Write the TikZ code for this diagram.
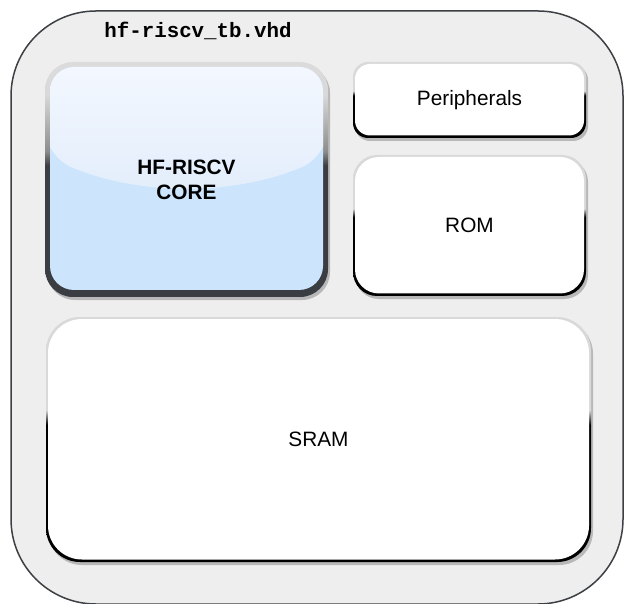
\documentclass[tikz,border=0pt]{standalone}
\usepackage{fontspec}
\setmainfont{Liberation Sans}
\newfontfamily\codefont{Liberation Mono}
\usetikzlibrary{shadows}

\definecolor{framefill}{HTML}{EEEEEE}
\definecolor{framedraw}{HTML}{3C3F43}
\definecolor{rimlight}{HTML}{D9D9D9}
\definecolor{coredark}{HTML}{3A3D42}
\definecolor{corelow}{HTML}{CCE4FC}
\definecolor{glosstop}{HTML}{F4F8FF}
\definecolor{glossbot}{HTML}{E2EDFB}

% bezel colours: dark on the lower half, light on the upper half
\pgfdeclareverticalshading{rim}{100bp}{color(0bp)=(black); color(53bp)=(black); color(56bp)=(rimlight); color(100bp)=(rimlight)}
\pgfdeclareverticalshading{corerim}{100bp}{color(0bp)=(coredark); color(53bp)=(coredark); color(56bp)=(black!45); color(68bp)=(black!15); color(100bp)=(black!10)}

\tikzset{
  blocktext/.style={font=\fontsize{10.4}{12.5}\selectfont},
  frame/.style={draw=framedraw, line width=0.75pt, fill=framefill, rounded corners=42.5pt},
  title/.style={font=\codefont\bfseries\fontsize{10.4}{12.5}\selectfont},
  block/.style={shade, shading=rim, rounded corners=#1, blocktext,
    drop shadow={shadow xshift=1pt, shadow yshift=-1.5pt, fill=black!28, opacity=1},
    path picture={\fill[white, rounded corners=#1]
      ([shift={(1pt,1.25pt)}]path picture bounding box.south west) rectangle
      ([shift={(-1pt,-1pt)}]path picture bounding box.north east);}},
  core/.style={shade, shading=corerim, rounded corners=14pt, align=center,
    font=\fontsize{10.4}{12.5}\selectfont\bfseries,
    drop shadow={shadow xshift=1pt, shadow yshift=-1.5pt, fill=black!28, opacity=1},
    path picture={
      \begin{scope}
        \clip[rounded corners=12pt]
          ([shift={(2.5pt,3.5pt)}]path picture bounding box.south west) rectangle
          ([shift={(-2.5pt,-2.5pt)}]path picture bounding box.north east);
        \fill[corelow] (path picture bounding box.south west) rectangle (path picture bounding box.north east);
        % glossy upper part
        \shade[top color=glosstop, bottom color=glossbot]
          (path picture bounding box.north west) -- ([yshift=-47pt]path picture bounding box.north west)
          .. controls ([xshift=47pt, yshift=-67pt]path picture bounding box.north west)
          and ([xshift=-47pt, yshift=-67pt]path picture bounding box.north east)
          .. ([yshift=-47pt]path picture bounding box.north east)
          -- (path picture bounding box.north east) -- cycle;
      \end{scope}}}
}

\begin{document}
\begin{tikzpicture}[x=0.5pt, y=-0.5pt]
  \useasboundingbox (0,0) rectangle (624,603);

  % testbench
  \node[frame, minimum width=306pt, minimum height=296.5pt] (tb) at (317,307.5) {};
  \node[title] (tbname) at (198,31) {hf-riscv\_tb.vhd};

  % components
  \node[core, minimum width=141.5pt, minimum height=117.5pt] (cpu) at (186.5,179.5) {HF-RISCV\\CORE};
  \node[block=7.5pt, minimum width=116.5pt, minimum height=38pt] (periph) at (469.5,100) {Peripherals};
  \node[block=12pt, minimum width=116.5pt, minimum height=70.5pt] (rom) at (469.5,225.5) {ROM};
  \node[block=17pt, minimum width=272.5pt, minimum height=122.5pt] (sram) at (318.5,439.5) {SRAM};
\end{tikzpicture}
\end{document}
